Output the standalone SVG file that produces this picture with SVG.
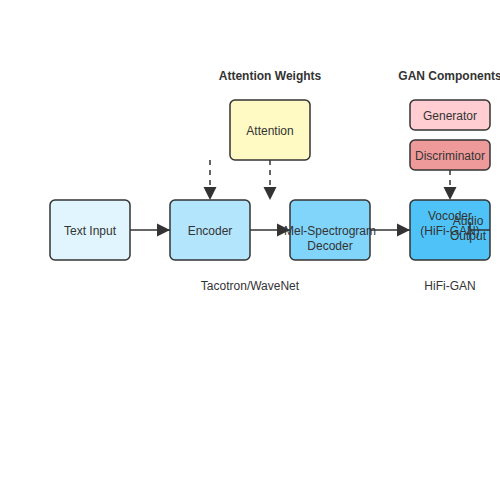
<svg xmlns="http://www.w3.org/2000/svg" width="500" height="500" viewBox="0 0 500 500">
<defs>
<style>
.box{stroke:#333;stroke-width:1.5}
.t{font-family:"Liberation Sans",Arial,sans-serif;font-size:12px;fill:#333;text-anchor:middle}
.h{font-weight:bold}
.c{stroke:#333;stroke-width:1.5;fill:none}
.d{stroke-dasharray:5,5}
</style>
<marker id="ahs" viewBox="0 0 10 10" refX="10" refY="5" markerWidth="9" markerHeight="9" orient="auto">
<path d="M0,0L10,5L0,10z" fill="#333"/>
</marker>
</defs>
<rect width="500" height="500" fill="#fff"/>
<text class="t h" x="270" y="80">Attention Weights</text>
<text class="t h" x="450" y="80">GAN Components</text>
<text class="t" x="250" y="290">Tacotron/WaveNet</text>
<text class="t" x="450" y="290">HiFi-GAN</text>
<g id="connectors">
<line class="c" x1="130" y1="230" x2="170" y2="230" marker-end="url(#ahs)"/>
<line class="c" x1="250" y1="230" x2="290" y2="230" marker-end="url(#ahs)"/>
<line class="c" x1="370" y1="230" x2="410" y2="230" marker-end="url(#ahs)"/>
<line class="c d" x1="210" y1="160" x2="210" y2="200" marker-end="url(#ahs)"/>
<line class="c d" x1="270" y1="160" x2="270" y2="200" marker-end="url(#ahs)"/>
<line class="c d" x1="450" y1="170" x2="450" y2="200" marker-end="url(#ahs)"/>
</g>
<g id="text-input"><rect class="box" x="50" y="200" width="80" height="60" rx="5" fill="#e1f5fe"/><text class="t" x="90" y="235">Text Input</text></g>
<g id="encoder"><rect class="box" x="170" y="200" width="80" height="60" rx="5" fill="#b3e5fc"/><text class="t" x="210" y="235">Encoder</text></g>
<g id="decoder"><rect class="box" x="290" y="200" width="80" height="60" rx="5" fill="#81d4fa"/><text class="t" x="330" y="235">Mel-Spectrogram</text><text class="t" x="330" y="250">Decoder</text></g>
<g id="vocoder"><rect class="box" x="410" y="200" width="80" height="60" rx="5" fill="#4fc3f7"/><text class="t" x="450" y="220">Vocoder</text><text class="t" x="450" y="235">(HiFi-GAN)</text></g>
<g id="attention"><rect class="box" x="230" y="100" width="80" height="60" rx="5" fill="#fff9c4"/><text class="t" x="270" y="135">Attention</text></g>
<g id="generator"><rect class="box" x="410" y="100" width="80" height="30" rx="5" fill="#ffcdd2"/><text class="t" x="450" y="120">Generator</text></g>
<g id="discriminator"><rect class="box" x="410" y="140" width="80" height="30" rx="5" fill="#ef9a9a"/><text class="t" x="450" y="160">Discriminator</text></g>
<g id="audio-output"><text class="t" x="468" y="225">Audio</text><text class="t" x="468" y="240">Output</text><path class="c" d="M470,222V239M470,230H490"/></g>
</svg>
